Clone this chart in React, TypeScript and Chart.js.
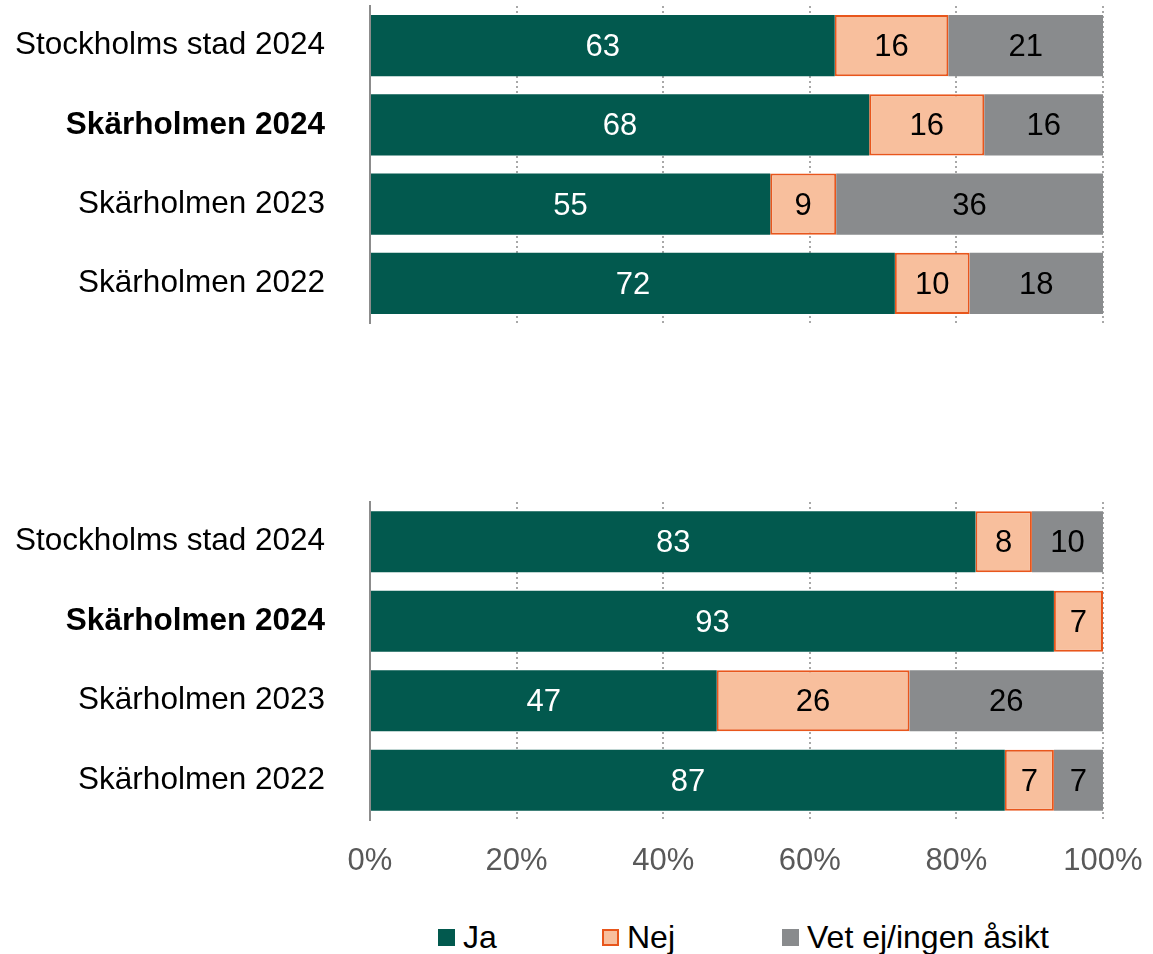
import React, { useEffect, useRef } from "react";
import { Chart, registerables } from "chart.js";

Chart.register(...registerables);

const categories = ["Stockholms stad 2024", "Skärholmen 2024", "Skärholmen 2023", "Skärholmen 2022"];
const boldIndex = 1;
const seriesNames = ["Ja", "Nej", "Vet ej/ingen åsikt"];

const topJa = [63.4, 68.1, 54.6, 71.6];
const topNej = [15.5, 15.7, 9.0, 10.2];
const topVet = [21.1, 16.2, 36.4, 18.2];

const bottomJa = [82.6, 93.3, 47.3, 86.6];
const bottomNej = [7.7, 6.7, 26.3, 6.7];
const bottomVet = [9.7, 0, 26.4, 6.7];

const xTicks = [0, 20, 40, 60, 80, 100];

const GREEN = "#02594E";
const NEJ_FILL = "#F8BF9D";
const NEJ_BORDER = "#E8561C";
const GRAY = "#898B8D";
const FONT = '"Liberation Sans", Arial, sans-serif';
const TRANSPARENT = "rgba(0,0,0,0)";

const dataLabels = {
  id: "dataLabels",
  afterDatasetsDraw(chart: any) {
    const ctx = chart.ctx;
    ctx.save();
    ctx.font = `31px ${FONT}`;
    ctx.textAlign = "center";
    ctx.textBaseline = "middle";
    chart.data.datasets.forEach((ds: any, di: number) => {
      const meta = chart.getDatasetMeta(di);
      meta.data.forEach((el: any, i: number) => {
        const v = ds.data[i];
        if (!v) return;
        ctx.fillStyle = di === 0 ? "#ffffff" : "#000000";
        ctx.fillText(String(Math.round(v)), (el.x + el.base) / 2, el.y + 2);
      });
    });
    ctx.restore();
  },
};

function makeConfig(ja: number[], nej: number[], vet: number[], showTicks: boolean): any {
  return {
    type: "bar",
    data: {
      labels: categories,
      datasets: [
        { label: seriesNames[0], data: ja, backgroundColor: GREEN, borderWidth: 0 },
        {
          label: seriesNames[1],
          data: nej,
          backgroundColor: NEJ_FILL,
          borderColor: NEJ_BORDER,
          borderWidth: 2,
          borderSkipped: false,
        },
        { label: seriesNames[2], data: vet, backgroundColor: GRAY, borderWidth: 0 },
      ],
    },
    options: {
      indexAxis: "y",
      animation: false,
      responsive: false,
      maintainAspectRatio: false,
      events: [],
      datasets: { bar: { categoryPercentage: 1, barPercentage: 0.77 } },
      layout: showTicks
        ? { padding: { top: 12, right: 50, bottom: 0, left: 0 } }
        : { padding: { top: 6, right: 50, bottom: 7, left: 0 } },
      plugins: { legend: { display: false }, tooltip: { enabled: false } },
      scales: {
        x: {
          stacked: true,
          min: 0,
          max: 100,
          afterBuildTicks(scale: any) {
            scale.ticks = xTicks.map((v) => ({ value: v }));
          },
          afterFit(scale: any) {
            scale.height = showTicks ? 70 : 0;
            scale.paddingLeft = 0;
            scale.paddingRight = 0;
          },
          grid: {
            color: (c: any) => (c.tick && c.tick.value === 0 ? TRANSPARENT : "#A8A8A8"),
            lineWidth: 2,
            drawTicks: showTicks,
            tickLength: 23,
            tickColor: TRANSPARENT,
          },
          border: { display: false, dash: [2, 3] },
          ticks: {
            display: showTicks,
            padding: 0,
            maxRotation: 0,
            minRotation: 0,
            color: "#595959",
            font: { size: 31, family: FONT },
            callback: (v: any) => v + "%",
          },
        },
        y: {
          stacked: true,
          afterFit(scale: any) {
            scale.width = 370;
            scale.paddingTop = 0;
            scale.paddingBottom = 0;
          },
          grid: {
            display: true,
            drawOnChartArea: false,
            drawTicks: true,
            tickLength: 45,
            color: TRANSPARENT,
            tickColor: TRANSPARENT,
          },
          border: { display: true, color: "#8C8C8C", width: 2 },
          ticks: {
            padding: 0,
            color: "#000000",
            font: (c: any) => ({ size: 31.5, family: FONT, weight: c.index === boldIndex ? "bold" : "normal" }),
          },
        },
      },
    },
    plugins: [dataLabels],
  };
}

function BarPanel(props: { ja: number[]; nej: number[]; vet: number[]; showTicks: boolean; top: number; height: number }) {
  const ref = useRef<HTMLCanvasElement | null>(null);
  useEffect(() => {
    if (!ref.current) return;
    const chart = new Chart(ref.current, makeConfig(props.ja, props.nej, props.vet, props.showTicks));
    return () => chart.destroy();
  }, []);
  return (
    <canvas
      ref={ref}
      width={1153}
      height={props.height}
      style={{ position: "absolute", left: 0, top: props.top, width: 1153, height: props.height }}
    />
  );
}

const legendItems = [
  { name: seriesNames[0], left: 438, fill: GREEN, border: GREEN },
  { name: seriesNames[1], left: 602, fill: NEJ_FILL, border: NEJ_BORDER },
  { name: seriesNames[2], left: 782, fill: GRAY, border: GRAY },
];

export default function App() {
  useEffect(() => {
    document.body.style.margin = "0";
  }, []);
  return (
    <div style={{ position: "relative", width: 1153, height: 954, background: "#fff", overflow: "hidden", fontFamily: FONT }}>
      <BarPanel ja={topJa} nej={topNej} vet={topVet} showTicks={false} top={0} height={330} />
      <BarPanel ja={bottomJa} nej={bottomNej} vet={bottomVet} showTicks={true} top={490} height={400} />
      {legendItems.map((it) => (
        <div
          key={it.name}
          style={{
            position: "absolute",
            left: it.left,
            top: 922,
            height: 30,
            display: "flex",
            alignItems: "center",
            fontSize: 32,
            lineHeight: "30px",
            color: "#000",
            whiteSpace: "nowrap",
          }}
        >
          <span
            style={{
              display: "inline-block",
              width: 17,
              height: 17,
              boxSizing: "border-box",
              background: it.fill,
              border: `2px solid ${it.border}`,
              marginRight: 8,
            }}
          />
          <span>{it.name}</span>
        </div>
      ))}
    </div>
  );
}
